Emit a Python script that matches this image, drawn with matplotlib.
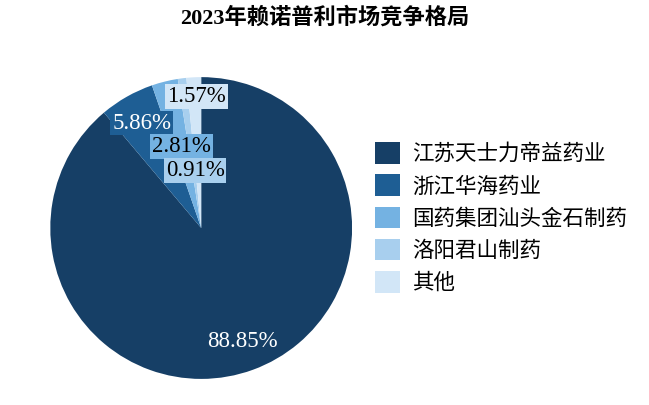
import matplotlib.pyplot as plt
import numpy as np

plt.rcParams['font.family'] = ['Liberation Serif', 'Noto Sans CJK SC', 'DejaVu Sans']

companies = ["江苏天士力帝益药业", "浙江华海药业", "国药集团汕头金石制药", "洛阳君山制药", "其他"]
shares = [88.85, 5.86, 2.81, 0.91, 1.57]
colors = ["#163f66", "#1e5e94", "#74b2e2", "#a8cfee", "#d2e6f7"]
text_colors = ["white", "white", "black", "black", "black"]
# label positions (radius, angle in degrees) where the small slices were moved apart
label_pos = [None, None, (0.555, 103.5), (0.382, 96.0), (0.871, 92.0)]

fig = plt.figure(figsize=(6.49, 4.05), dpi=100)

ax = fig.add_axes([0.0775, 0.064, 0.465, 0.746])
wedges, _ = ax.pie(shares, colors=colors, startangle=90, counterclock=False,
                   wedgeprops=dict(linewidth=0))
ax.set_aspect("equal")
ax.set_xlim(-1, 1)
ax.set_ylim(-1, 1)

theta = 90 - 360 * (np.cumsum(shares) - np.array(shares) / 2) / 100
for i, (v, c, tc) in enumerate(zip(shares, colors, text_colors)):
    if label_pos[i] is None:
        r, a = 0.8, theta[i]
    else:
        r, a = label_pos[i]
    x, y = r * np.cos(np.radians(a)), r * np.sin(np.radians(a))
    ax.text(x, y, f"{v:.2f}%", ha="center", va="center", fontsize=16.5, color=tc,
            bbox=dict(boxstyle="square,pad=0.08", facecolor=c, edgecolor="none"))

fig.text(0.50, 0.955, "2023年赖诺普利市场竞争格局", ha="center", va="center",
         fontsize=16, fontweight="bold")

leg = fig.legend(wedges, companies, loc="upper left", bbox_to_anchor=(0.565, 0.67),
                 frameon=False, fontsize=15.5, handlelength=1.15, handleheight=1.15,
                 labelspacing=0.43, handletextpad=0.55, borderaxespad=0)

fig.savefig("out.png", dpi=100)
